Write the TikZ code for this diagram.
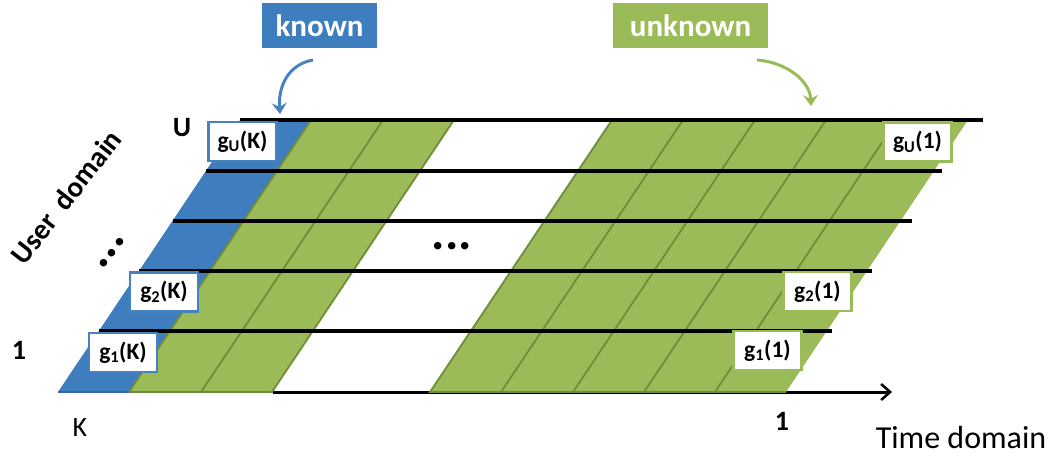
\documentclass[tikz,border=0pt]{standalone}
\usepackage{fontspec}
\setmainfont{Carlito}
\usetikzlibrary{arrows.meta}
\definecolor{kblue}{RGB}{62,126,190}
\definecolor{kbord}{RGB}{70,130,192}
\definecolor{kdark}{RGB}{50,105,165}
\definecolor{ugreen}{RGB}{155,187,89}
\definecolor{udark}{RGB}{112,140,58}
\begin{document}
\begin{tikzpicture}[x=1pt,y=-1pt,
  glabel/.style={draw, fill=white, line width=2.5pt, minimum width=68pt, minimum height=39pt, inner sep=0pt, font=\fontsize{23.5}{23.5}\selectfont\bfseries},
  kbox/.style={glabel, draw=kbord},
  ubox/.style={glabel, draw=ugreen},
  tag/.style={minimum height=45pt, inner sep=0pt, text=white, font=\fontsize{31}{31}\selectfont\bfseries},
  rowline/.style={line width=4pt, black},
  divider/.style={line width=1.8pt, udark},
  curved/.style={line width=3pt, -{Stealth[length=11pt,width=15pt,inset=4pt]}},
  axislbl/.style={inner sep=0pt, font=\fontsize{28}{28}\selectfont},
  axisbold/.style={inner sep=0pt, font=\fontsize{28}{28}\selectfont\bfseries},
  dots/.style={inner sep=0pt, font=\fontsize{50}{50}\selectfont\bfseries}
]
\useasboundingbox (0,0) rectangle (1056,457);

% time axis (behind the grid)
\coordinate (ax0) at (273,392);
\coordinate (ax1) at (892,392);
\draw[line width=3pt, -{Straight Barb[length=9pt,width=16pt,line width=2.5pt]}] (ax0) -- (ax1);

% parallelogram pieces
\fill[kblue] (58,392) -- (129,392) -- (311,120) -- (240,120) -- cycle;
\draw[kdark, line width=1.5pt] (58,392) -- (129,392);
\fill[ugreen] (129,392) -- (272,392) -- (454,120) -- (311,120) -- cycle;
\fill[ugreen] (430,392) -- (786,392) -- (968,120) -- (612,120) -- cycle;
\draw[divider] (129,392) -- (272,392) -- (454,120);
\draw[divider] (612,120) -- (430,392) -- (786,392);
\draw[divider] (129,392) -- (311,120);
\foreach \b in {201,501,573,644,715} {
  \draw[divider] (\b,392) -- (\b+182,120);
}

% row lines
\coordinate (r1a) at (240,120); \coordinate (r1b) at (983,120);
\coordinate (r2a) at (206,171); \coordinate (r2b) at (942,171);
\coordinate (r3a) at (173,221); \coordinate (r3b) at (912,221);
\coordinate (r4a) at (139,271); \coordinate (r4b) at (872,271);
\coordinate (r5a) at (99,331);  \coordinate (r5b) at (832,331);
\draw[rowline] (r1a) -- (r1b);
\draw[rowline] (r2a) -- (r2b);
\draw[rowline] (r3a) -- (r3b);
\draw[rowline] (r4a) -- (r4b);
\draw[rowline] (r5a) -- (r5b);

% labelled cells
\node[kbox] (guk) at (242.5,141.5) {g\textsubscript{U}(K)};
\node[kbox] (g2k) at (164,292) {g\textsubscript{2}(K)};
\node[kbox] (g1k) at (123,352.5) {g\textsubscript{1}(K)};
\node[ubox] (gu1) at (917.5,142) {g\textsubscript{U}(1)};
\node[ubox] (g21) at (817.5,291.5) {g\textsubscript{2}(1)};
\node[ubox] (g11) at (767.5,350.5) {g\textsubscript{1}(1)};

% tags
\node[tag, fill=kblue, minimum width=115pt] (known) at (319.5,25.5) {known};
\node[tag, fill=ugreen, minimum width=155pt] (unknown) at (690.5,25.5) {unknown};
\coordinate (ka) at (313,60);
\coordinate (kb) at (280,114);
\coordinate (ua) at (757,60);
\coordinate (ub) at (811,106);
\draw[curved, kbord] (ka) .. controls (290,64) and (278,84) .. (kb);
\draw[curved, ugreen] (ua) .. controls (785,62) and (810,80) .. (ub);

% axis labels
\node[axisbold] (lu) at (182,128) {U};
\node[axisbold] (l1) at (19,350) {1};
\node[axislbl] (lk) at (80,428) {K};
\node[axisbold] (lt1) at (782,421) {1};
\node[inner sep=0pt, font=\fontsize{32}{32}\selectfont] (time) at (961,438) {Time domain};
\node[inner sep=0pt, rotate=52, font=\fontsize{29}{29}\selectfont\bfseries] (user) at (66,197) {User\ \ domain};

% ellipses
\node[dots, rotate=52] (vdots) at (112,253) {...};
\node[dots] (hdots) at (452,246) {...};
\end{tikzpicture}
\end{document}
